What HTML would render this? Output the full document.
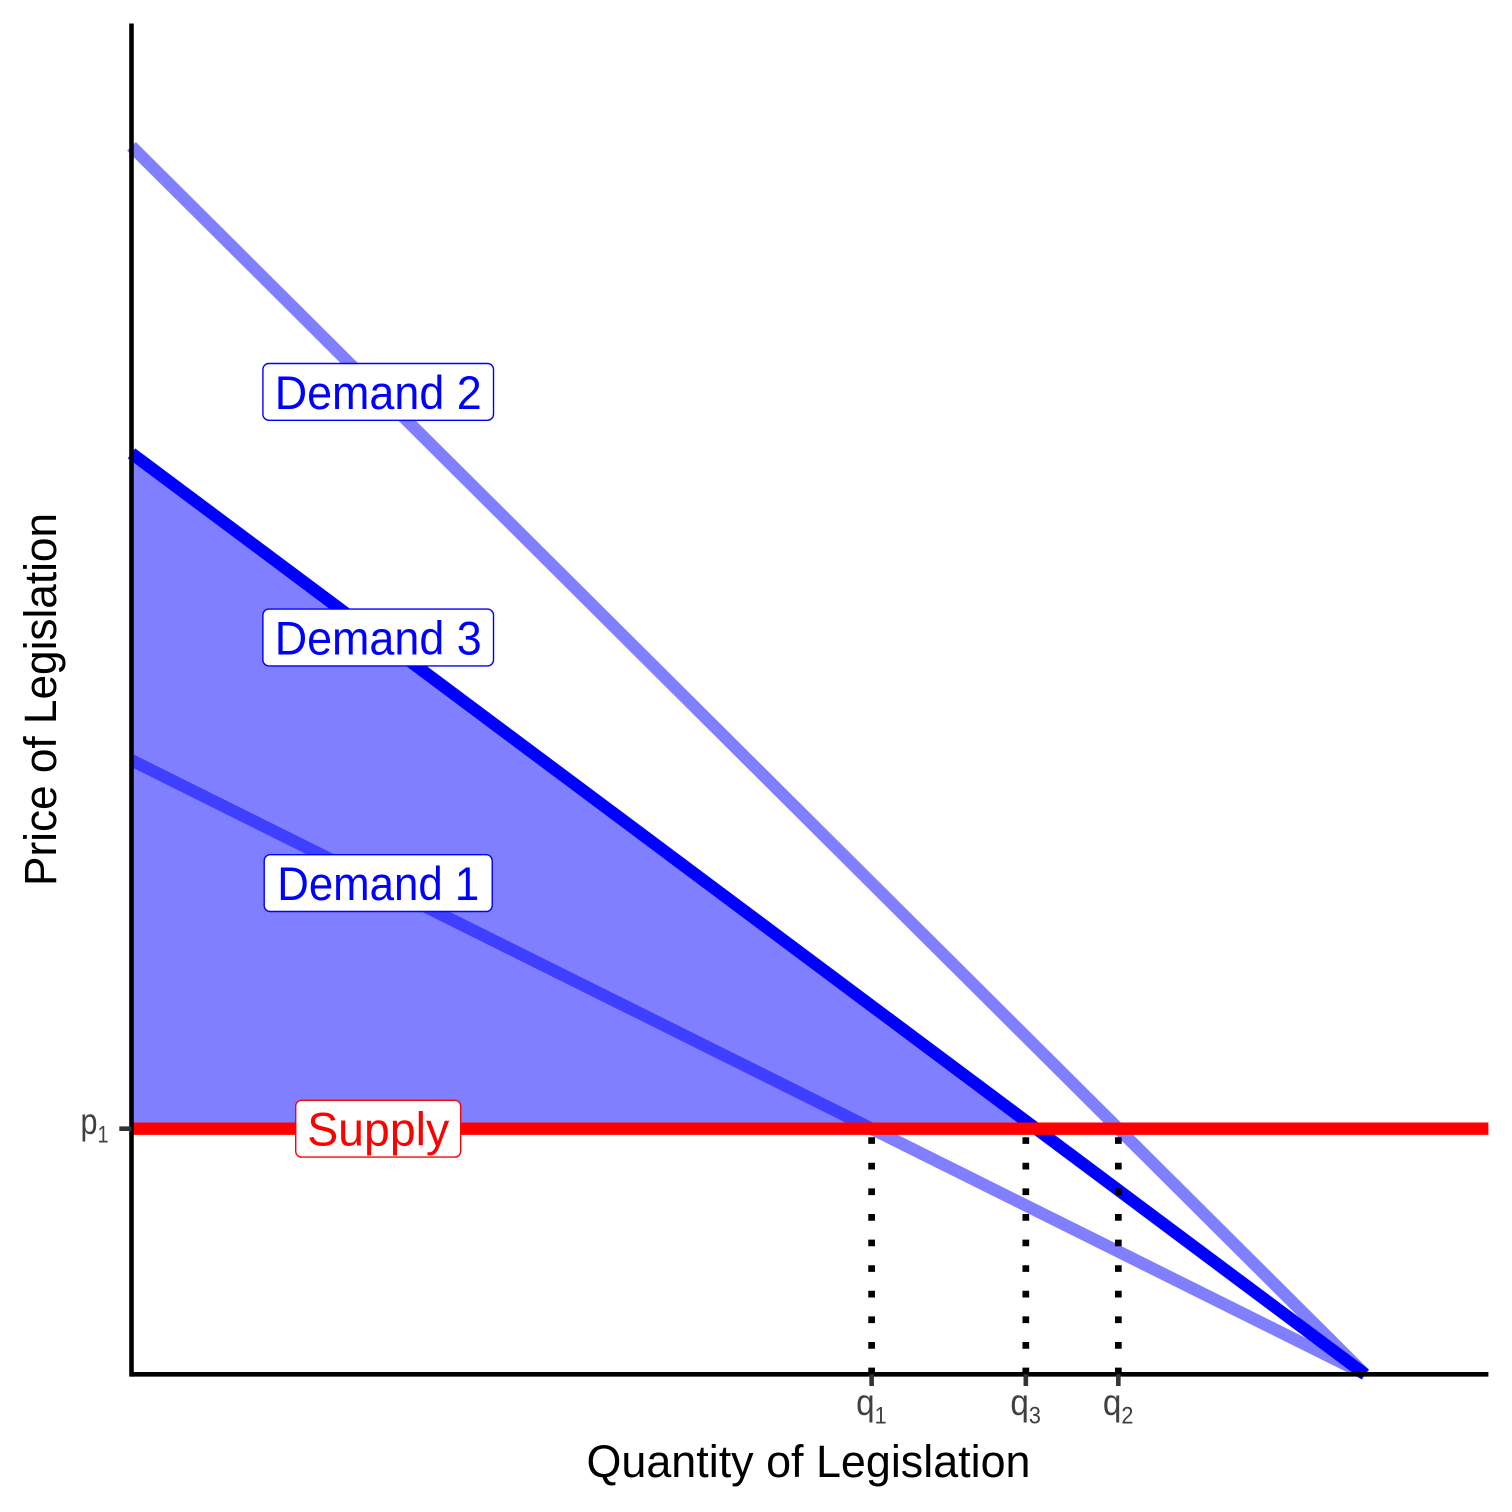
<!DOCTYPE html>
<html lang="en">
<head>
<meta charset="utf-8">
<title>Market for Legislation</title>
<style>
  html, body { margin: 0; padding: 0; background: #ffffff; }
  svg { display: block; }
  text { font-family: "Liberation Sans", sans-serif; }
</style>
</head>
<body>
<svg id="chart" xmlns="http://www.w3.org/2000/svg" width="1512" height="1512" viewBox="0 0 1512 1512">
  <rect x="0" y="0" width="1512" height="1512" fill="#ffffff"/>
  <g id="marks"></g>
  <g id="axes"></g>
  <g id="labels"></g>
  <text x="808.5" y="1477" font-size="45" fill="#000000" text-anchor="middle" textLength="444" lengthAdjust="spacingAndGlyphs">Quantity of Legislation</text>
  <text transform="translate(56,699.5) rotate(-90)" x="0" y="0" font-size="45" fill="#000000" text-anchor="middle" textLength="373" lengthAdjust="spacingAndGlyphs">Price of Legislation</text>
</svg>
<script>
var demandX = [0, 10];
var demand1Y = [5, 0];
var demand2Y = [10, 0];
var demand3Y = [7.5, 0];
var supplyX = [0, 11];
var supplyY = [2, 2];
var surplusX = [0, 0, 7.33];
var surplusY = [2, 7.5, 2];
var xTickValues = [6, 7.25, 8];
var xTickSubscripts = ["1", "3", "2"];
var yTickValues = [2];
var yTickSubscripts = ["1"];
var labelTexts = ["Demand 2", "Demand 3", "Demand 1", "Supply"];
var labelX = [2, 2, 2, 2];
var labelY = [8, 6, 4, 2];
var xDomain = [0, 11];
var yDomain = [0, 11];

var NS = "http://www.w3.org/2000/svg";
var marks = document.getElementById("marks");
var axes = document.getElementById("axes");
var labels = document.getElementById("labels");

var plotLeft = 131.5, plotRight = 1488.4, plotBottom = 1374.3, plotTop = 23.5;
function sx(v) { return plotLeft + (v - xDomain[0]) / (xDomain[1] - xDomain[0]) * (plotRight - plotLeft); }
function sy(v) { return plotBottom - (v - yDomain[0]) / (yDomain[1] - yDomain[0]) * (plotBottom - plotTop); }

function make(tag, parent, attrs) {
  var el = document.createElementNS(NS, tag);
  for (var k in attrs) { el.setAttribute(k, attrs[k]); }
  parent.appendChild(el);
  return el;
}
function pts(xs, ys) {
  return xs.map(function (x, i) { return sx(x).toFixed(2) + "," + sy(ys[i]).toFixed(2); }).join(" ");
}

var surplus = make("polygon", marks, { points: pts(surplusX, surplusY), fill: "#0000ff", "fill-opacity": 0.5 });



var d1 = make("polyline", marks, { points: pts(demandX, demand1Y), fill: "none", stroke: "#0000ff", "stroke-opacity": 0.5, "stroke-width": 12.3 });



var d2 = make("polyline", marks, { points: pts(demandX, demand2Y), fill: "none", stroke: "#0000ff", "stroke-opacity": 0.5, "stroke-width": 12.3 });



var d3 = make("polyline", marks, { points: pts(demandX, demand3Y), fill: "none", stroke: "#0000ff", "stroke-width": 12.3 });



var supply = make("polyline", marks, { points: pts(supplyX, supplyY), fill: "none", stroke: "#ff0000", "stroke-width": 12.3 });



xTickValues.forEach(function (v, i) {
  var drop = make("line", marks, { x1: sx(v), x2: sx(v), y1: sy(0), y2: sy(yTickValues[0]), stroke: "#000000", "stroke-width": 6.7, "stroke-dasharray": "6.7 18.9" });
  
  
});

var yAxis = make("line", axes, { x1: plotLeft, x2: plotLeft, y1: plotTop, y2: plotBottom + 2.3, stroke: "#000000", "stroke-width": 4.6 });



var xAxis = make("line", axes, { x1: plotLeft, x2: plotRight, y1: plotBottom, y2: plotBottom, stroke: "#000000", "stroke-width": 4.6 });



function addSubscriptLabel(group, letter, sub, attrs, subDy) {
  var t = make("text", group, attrs);
  t.appendChild(document.createTextNode(letter));
  var s = make("tspan", t, { "font-size": 24, dy: subDy });
  s.textContent = sub;
  return t;
}

xTickValues.forEach(function (v, i) {
  var tick = make("line", axes, { x1: sx(v), x2: sx(v), y1: plotBottom, y2: 1386, stroke: "#333333", "stroke-width": 4.6 });
  
  
  var lab = addSubscriptLabel(axes, "q", xTickSubscripts[i], { x: sx(v) - 15.5, y: 1415, "font-size": 37, fill: "#404040", textLength: 30.5, lengthAdjust: "spacingAndGlyphs" }, 8.5);
  
  
});

yTickValues.forEach(function (v, i) {
  var tick = make("line", axes, { x1: 119.3, x2: plotLeft, y1: sy(v), y2: sy(v), stroke: "#333333", "stroke-width": 4.6 });
  
  
  var lab = addSubscriptLabel(axes, "p", yTickSubscripts[i], { x: 80.5, y: sy(v) + 5.5, "font-size": 37, fill: "#404040", textLength: 28, lengthAdjust: "spacingAndGlyphs" }, 8.5);
  
  
});

var boxWidths = { "Demand 2": 230.6, "Demand 3": 230.6, "Demand 1": 228, "Supply": 165 };
var textWidths = { "Demand 2": 207, "Demand 3": 207, "Demand 1": 202, "Supply": 142 };
labelTexts.forEach(function (txt, i) {
  var isSupply = txt === "Supply";
  var color = isSupply ? "#ff0000" : "#0000ff";
  var cx = sx(labelX[i]), cy = sy(labelY[i]);
  var w = boxWidths[txt];
  var box = make("rect", labels, { x: cx - w / 2, y: cy - 28.4, width: w, height: 56.8, rx: 6, ry: 6, fill: "#ffffff", stroke: color, "stroke-width": 1.4 });
  
  
  var t = make("text", labels, { x: cx, y: cy + 17, "font-size": 47.5, fill: color, "text-anchor": "middle", textLength: textWidths[txt], lengthAdjust: "spacingAndGlyphs" });
  t.textContent = txt;
  
  
});
</script>
</body>
</html>
